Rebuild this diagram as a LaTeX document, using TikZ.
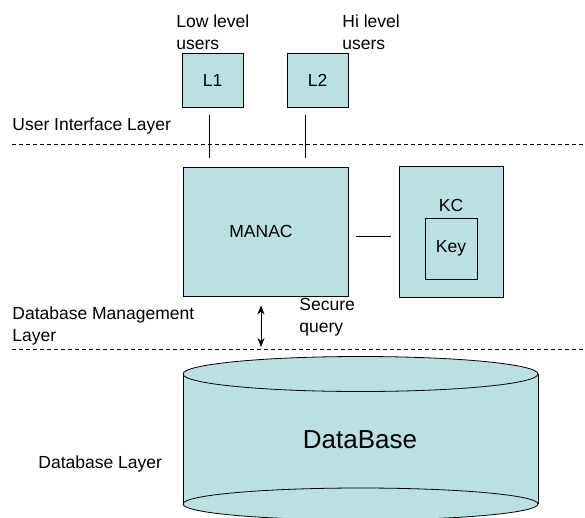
\documentclass[tikz,border=0pt]{standalone}
\usepackage{fontspec}
\setmainfont{Liberation Sans}
\usetikzlibrary{arrows.meta, positioning}

\definecolor{boxblue}{RGB}{187,224,227}

\tikzset{
  block/.style={draw, fill=boxblue, inner sep=0pt},
  layerline/.style={dash pattern=on 4pt off 3pt},
  lbl/.style={anchor=base west, inner sep=0pt, align=left},
}

\begin{document}
\begin{tikzpicture}[x=1pt, y=-1pt, >={Stealth[length=9pt, width=7pt]}, font=\fontsize{17.5}{22}\selectfont, line width=0.8pt]
  \useasboundingbox (0,0) rectangle (585,517);

  % Uzivatele
  \node[block, minimum width=61pt, minimum height=54pt] (l1) at (212.5,80) {L1};
  \node[block, minimum width=61pt, minimum height=54pt] (l2) at (317.5,80) {L2};
  \node[lbl] (lowlbl) at (176,49) {Low level\\users};
  \node[lbl] (hilbl) at (342,49) {Hi level\\users};

  % Vrstva rozhrani
  \node[lbl] (uilbl) at (12,130) {User Interface Layer};
  \coordinate (ui-a) at (12,144);
  \coordinate (ui-b) at (585,144);
  \draw[layerline] (ui-a) -- (ui-b);

  % MANAC a KC
  \node[block, minimum width=165pt, minimum height=129pt] (manac) at (265.5,231.5) {};
  \node (manaclbl) at (261,231) {MANAC};
  \node[block, minimum width=104pt, minimum height=131pt] (kc) at (451,231.5) {};
  \node (kclbl) at (451,205) {KC};
  \node[block, minimum width=52pt, minimum height=61pt] (key) at (451,248.5) {Key};

  \draw[shorten <=8pt, shorten >=9pt] ([xshift=-3.5pt]l1.south) -- ([xshift=-3.5pt]l1.south |- manac.north);
  \draw[shorten <=8pt, shorten >=9pt] ([xshift=-12.5pt]l2.south) -- ([xshift=-12.5pt]l2.south |- manac.north);
  \draw[shorten <=8pt, shorten >=8pt] ([yshift=-4.5pt]manac.east) -- ([yshift=-4.5pt]kc.west);

  % Sprava databaze
  \node[lbl] (dbmlbl) at (12,341) {Database Management\\Layer};
  \node[lbl] (querylbl) at (299,332) {Secure\\query};
  \coordinate (qend) at (261,347);
  \draw[<->, shorten <=9pt] ([xshift=-4.5pt]manac.south) -- (qend);
  \coordinate (dbm-a) at (12,349);
  \coordinate (dbm-b) at (585,349);
  \draw[layerline] (dbm-a) -- (dbm-b);

  % Databaze
  \fill[boxblue] (183,374) rectangle (538,504);
  \draw[fill=boxblue] (360.5,504) ellipse [x radius=177.5, y radius=16];
  \draw (183,374) -- (183,504) (538,374) -- (538,504);
  \draw[fill=boxblue] (360.5,374) ellipse [x radius=177.5, y radius=17.5];
  \node[font=\fontsize{26}{30}\selectfont] (db) at (360,440) {DataBase};
  \node[lbl] (dblbl) at (38,468) {Database Layer};
\end{tikzpicture}
\end{document}
